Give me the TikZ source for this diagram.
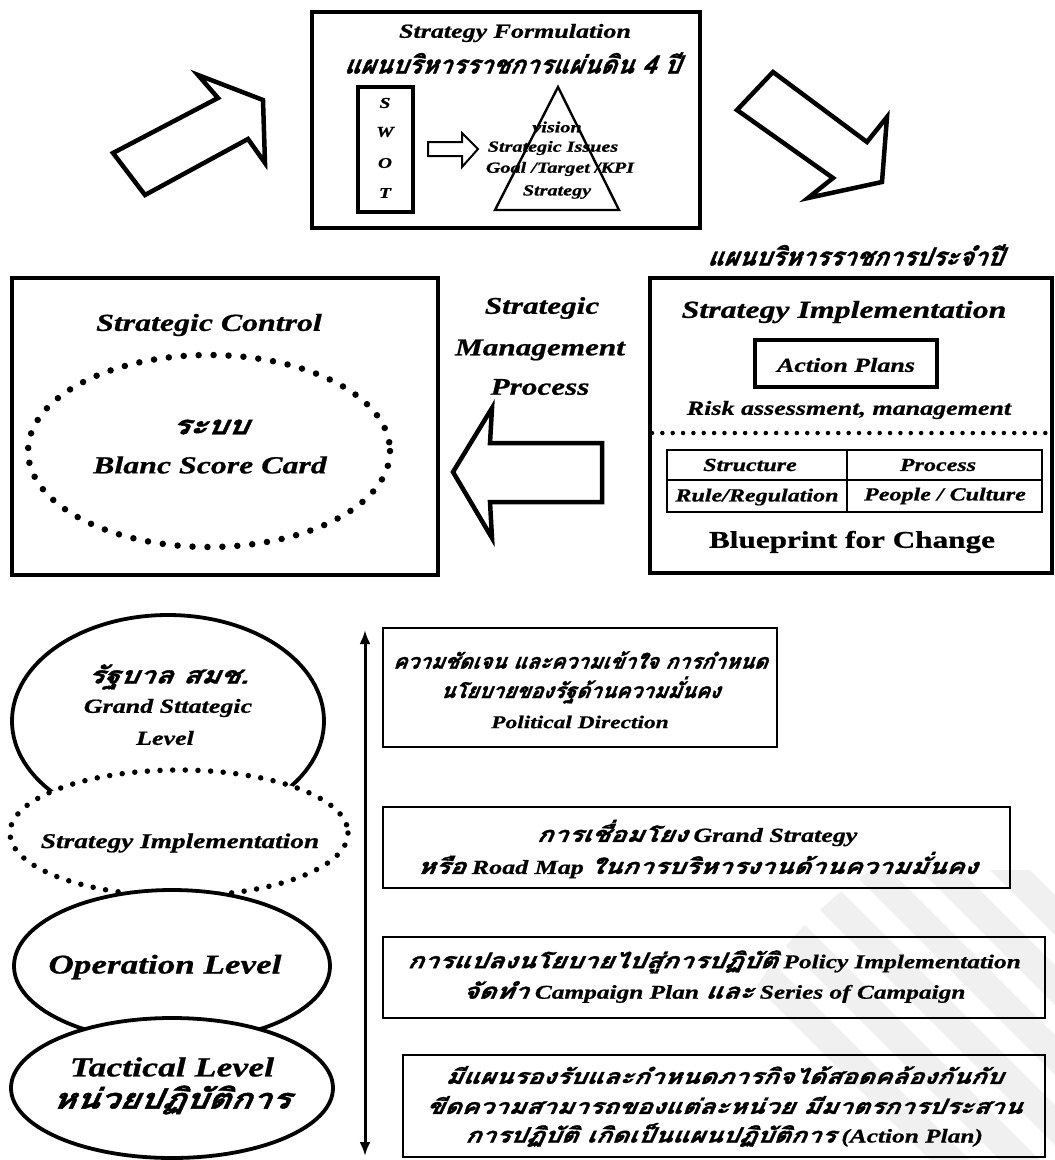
\documentclass[tikz,border=0pt]{standalone}
\usepackage{fontspec}
\setmainfont{Liberation Serif}[FakeStretch=1.3, FakeBold=0.8]
\newfontfamily\thai[Script=Thai, FakeBold=1.6, FakeSlant=0.2]{Loma}
\newfontfamily\thaiw[Script=Thai, FakeBold=1.6, FakeSlant=0.2, FakeStretch=1.25]{Loma}
\usetikzlibrary{arrows.meta}
\newcommand\fsz[1]{\fontsize{#1}{#1}\selectfont}
\tikzset{
  lab/.style={inner sep=0pt, font=\bfseries\itshape\fsz{#1}},
  thlab/.style={inner sep=0pt, font=\thai\bfseries\itshape\fsz{#1}},
  thwlab/.style={inner sep=0pt, font=\thaiw\bfseries\itshape\fsz{#1}},
  heavybox/.style={draw, line width=4.5pt},
  midbox/.style={draw, line width=3.2pt},
  thinbox/.style={draw, line width=1.6pt},
  dotline/.style={line width=#1, line cap=round, dash pattern=on 0pt off 2.3*#1},
  blockarrow/.style={draw, line width=4.5pt, line join=miter, fill=white},
}
\newcommand\tw[1]{{\thaiw\fsz{21.5}#1}}
\begin{document}
\begin{tikzpicture}[x=1pt,y=-1pt]
\useasboundingbox[fill=white] (0,0) rectangle (1055,1160);

% faint watermark, bottom right
\begin{scope}
  \clip (1075,1185) circle (375);
  \foreach \k in {0,...,7}{
    \fill[gray!12] (640+\k*70,870) -- ++(40,0) -- ++(330,330) -- ++(-40,0) -- cycle;
  }
\end{scope}

% ---------- top: Strategy Formulation ----------
\node[heavybox, minimum width=388pt, minimum height=216pt, inner sep=0pt] (form) at (506,120) {};
\node[lab=20] (formT) at (515,33) {Strategy Formulation};
\node[thlab=25] (formP) at (512,63) {แผนบริหารราชการแผ่นดิน 4 ปี};
\node[midbox, minimum width=55pt, minimum height=125pt, inner sep=0pt] (swot) at (385.5,149.5) {};
\node[lab=15] (sS) at (385,103) {S};
\node[lab=15] (sW) at (385,132) {W};
\node[lab=15] (sO) at (385,163) {O};
\node[lab=15] (sT) at (385,193) {T};
\draw[line width=2pt, line join=miter] (428,142) -- (462,142) -- (462,133) -- (478,149) -- (462,167) -- (462,156) -- (428,156) -- cycle;
\coordinate (apex) at (558,87);
\coordinate (bl) at (495,210);
\coordinate (br) at (619,210);
\draw[line width=2.4pt, line join=miter] (apex) -- (bl) -- (br) -- cycle;
\node[lab=15.5] (tv) at (557,127) {vision};
\node[lab=15.5] (ti) at (553,148) {Strategic Issues};
\node[lab=15.5] (tg) at (560,169) {Goal /Target /KPI};
\node[lab=15.5] (ts) at (557,192) {Strategy};

% top arrows
\draw[blockarrow] (113,153) -- (218,98) -- (198,75) -- (263,100) -- (265,163) -- (248,139) -- (145,195) -- cycle;
\draw[blockarrow] (773,72) -- (867,142) -- (887,117) -- (882,182) -- (808,198) -- (833,178) -- (737,110) -- cycle;

% ---------- right: Strategy Implementation ----------
\node[thlab=25] (annual) at (855,255) {แผนบริหารราชการประจำปี};
\node[heavybox, minimum width=402pt, minimum height=295pt, inner sep=0pt] (impl) at (851,425.5) {};
\node[lab=24.5] (implT) at (844,312) {Strategy Implementation};
\node[midbox, minimum width=182pt, minimum height=47pt, inner sep=0pt] (ap) at (846,363.5) {};
\node[lab=20] (apT) at (846,365) {Action Plans};
\node[lab=20] (risk) at (849,410) {Risk assessment, management};
\coordinate (dl) at (652,433);
\coordinate (dr) at (1052,433);
\draw[dotline=4.5pt] (dl) -- (dr);
\node[draw, line width=2.6pt, minimum width=375pt, minimum height=62pt, inner sep=0pt] (tab) at (854.5,481) {};
\draw[line width=2.4pt] (tab.west |- 0,480) -- (tab.east |- 0,480);
\draw[line width=2.4pt] (847,0 |- tab.north) -- (847,0 |- tab.south);
\node[lab=18.5] (c1) at (750,465) {Structure};
\node[lab=18.5] (c2) at (938,465) {Process};
\node[lab=18.5] (c3) at (757,497) {Rule/Regulation};
\node[lab=18.5] (c4) at (945,496) {People / Culture};
\node[inner sep=0pt, font=\bfseries\fsz{24}] (blue) at (852,542) {Blueprint for Change};

% ---------- left: Strategic Control ----------
\node[heavybox, minimum width=426pt, minimum height=297pt, inner sep=0pt] (ctrl) at (225,426.5) {};
\node[lab=24.5] (ctrlT) at (209,325) {Strategic Control};
\draw[dotline=6.5pt] (209,451) ellipse [x radius=181, y radius=96];
\node[thwlab=26] (rb) at (210,427) {ระบบ};
\node[lab=24.5] (bsc) at (210,465) {Blanc Score Card};

% ---------- middle ----------
\node[lab=24] (m1) at (542,308) {Strategic};
\node[lab=24] (m2) at (540,350) {Management};
\node[lab=24] (m3) at (540,387) {Process};
\draw[blockarrow] (602,443) -- (490,443) -- (492,408) -- (453,472) -- (492,538) -- (490,502) -- (602,502) -- cycle;

% ---------- bottom: levels ----------
\draw[line width=3.8pt] (168,721) ellipse [x radius=156, y radius=106];
\node[thwlab=23.5] (e1a) at (168,677) {รัฐบาล สมช.};
\node[lab=20] (e1b) at (168,708) {Grand Sttategic};
\node[lab=20] (e1c) at (165,738) {Level};
\fill[white] (179,833) ellipse [x radius=169, y radius=63];
\draw[dotline=5.5pt] (179,833) ellipse [x radius=169, y radius=63];
\node[lab=21] (e2) at (180,843) {Strategy Implementation};
\draw[line width=3.8pt, fill=white] (172,966) ellipse [x radius=158, y radius=76];
\node[lab=27] (e3) at (165,967) {Operation Level};
\draw[line width=3.8pt, fill=white] (172,1088) ellipse [x radius=161, y radius=70];
\node[lab=27.5] (e4a) at (172,1067) {Tactical Level};
\node[thwlab=28] (e4b) at (171,1100) {หน่วยปฏิบัติการ};

\coordinate (vtop) at (365,630);
\coordinate (vbot) at (365,1156);
\draw[line width=3pt, {Latex[length=14pt,width=11pt]}-{Latex[length=14pt,width=11pt]}] (vtop) -- (vbot);

% ---------- bottom right boxes ----------
\draw[thinbox] (383,628) rectangle (777,747);
\node[thlab=21] (b1a) at (580,660) {ความชัดเจน และความเข้าใจ การกำหนด};
\node[thlab=21] (b1b) at (580,690) {นโยบายของรัฐด้านความมั่นคง};
\node[lab=18] (b1c) at (580,722) {Political Direction};

\draw[thinbox] (383,807) rectangle (1010,888);
\node[lab=20] (b2a) at (697,833) {\tw{การเชื่อมโยง} Grand Strategy};
\node[lab=20] (b2b) at (697,865) {\tw{หรือ} Road Map \tw{ในการบริหารงานด้านความมั่นคง}};

\draw[thinbox] (383,937) rectangle (1045,1018);
\node[lab=19.5] (b3a) at (714,962) {\tw{การแปลงนโยบายไปสู่การปฏิบัติ} Policy Implementation};
\node[lab=19.5] (b3b) at (714,992) {\tw{จัดทำ} Campaign Plan \tw{และ} Series of Campaign};

\draw[thinbox] (403,1055) rectangle (1045,1157);
\node[thwlab=21] (b4a) at (724,1075) {มีแผนรองรับและกำหนดภารกิจได้สอดคล้องกันกับ};
\node[thwlab=21] (b4b) at (724,1105) {ขีดความสามารถของแต่ละหน่วย มีมาตรการประสาน};
\node[lab=19.5] (b4c) at (724,1135) {{\thaiw\fsz{21}การปฏิบัติ เกิดเป็นแผนปฏิบัติการ} (Action Plan)};
\end{tikzpicture}
\end{document}
